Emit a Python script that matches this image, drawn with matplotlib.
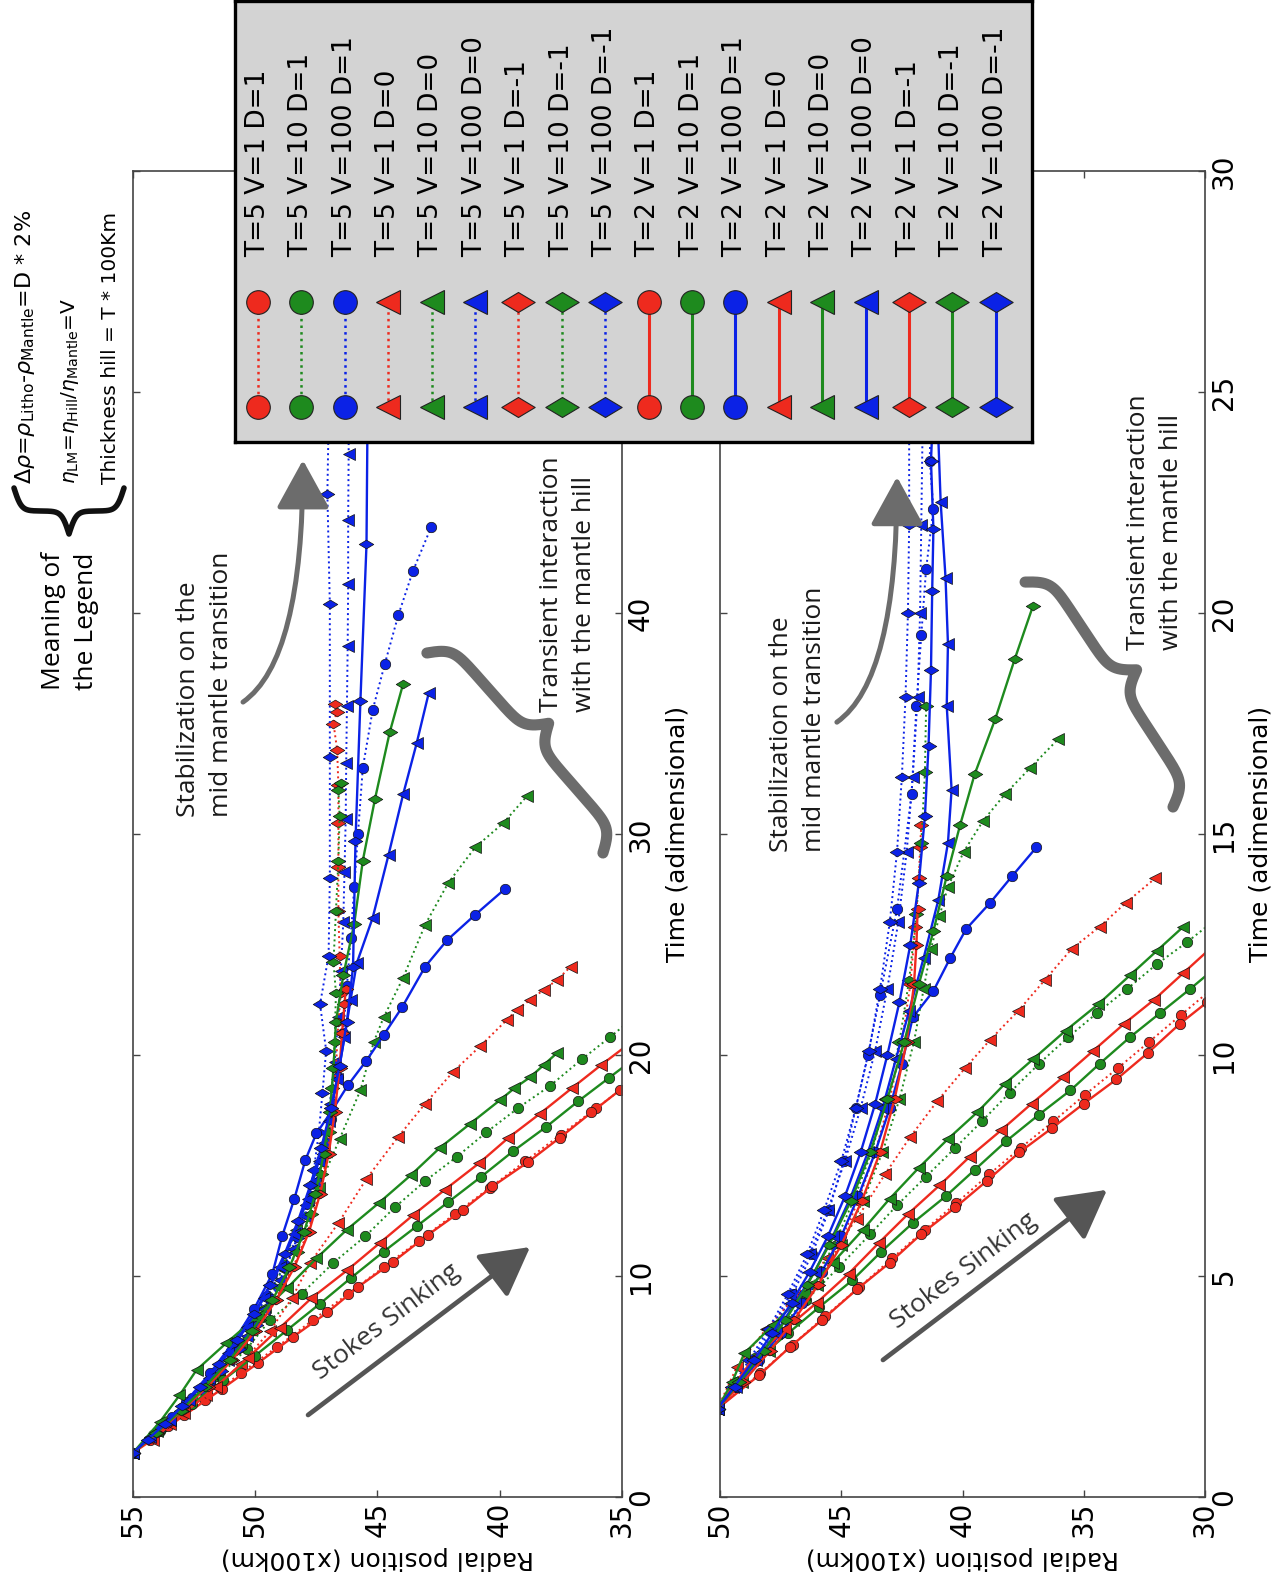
#!/usr/bin/env python3
"""Radial position of the sinking slab against time for the two model sets,
laid out on a portrait page (the landscape figure turned a quarter turn)."""

import numpy as np
import matplotlib

matplotlib.use("Agg")
import matplotlib.pyplot as plt
from matplotlib.lines import Line2D
from matplotlib.patches import FancyArrowPatch
from matplotlib.path import Path

plt.rcParams["mathtext.fontset"] = "dejavusans"

W, H, DPI = 1280, 1596, 100

# ---------------------------------------------------------------------------
# Model runs, (time, radial position x100 km).  First panel: outer set.
# ---------------------------------------------------------------------------
TOP_T5_V1_D1 = [(2.0, 55.0), (3.2, 53.55), (4.4, 52.05), (5.6, 50.6), (6.8, 49.1), (8.0, 47.65),
                (9.2, 46.2), (10.4, 44.75), (11.6, 43.3), (12.8, 41.85), (14.0, 40.4), (15.2, 38.95),
                (16.4, 37.5), (17.6, 36.05), (18.8, 34.6)]
TOP_T5_V10_D1 = [(2.0, 55.0), (3.1, 53.9), (4.3, 52.65), (5.5, 51.45), (6.7, 50.35), (8.0, 49.4),
                 (9.2, 48.1), (10.6, 46.8), (11.8, 45.5), (13.1, 44.3), (14.3, 43.05), (15.4, 41.75),
                 (16.5, 40.55), (17.6, 39.25), (18.6, 37.95), (19.8, 36.65), (20.8, 35.5), (21.8, 34.4)]
TOP_T5_V100_D1 = [(2.0, 55.0), (2.8, 54.2), (3.6, 53.4), (4.5, 52.6), (5.5, 51.8), (6.6, 51.0),
                  (7.8, 50.25), (9.1, 49.5), (10.5, 48.8), (12.0, 48.2), (13.6, 47.7), (15.3, 47.25),
                  (17.1, 46.9), (19.0, 46.6), (21.0, 46.4), (23.1, 46.25), (25.3, 46.1), (27.6, 45.95),
                  (30.0, 45.8), (33.0, 45.6), (35.6, 45.2), (37.7, 44.7), (39.9, 44.15), (41.9, 43.55),
                  (43.9, 42.8)]
TOP_T5_V1_D0 = [(2.0, 55.0), (3.3, 53.5), (4.6, 52.0), (6.0, 50.6), (7.5, 49.4), (9.0, 48.5),
                (10.6, 47.75), (12.4, 46.6), (14.4, 45.45), (16.3, 44.15), (17.8, 43.05), (19.25, 41.9),
                (20.4, 40.8), (21.6, 39.7), (22.05, 39.3), (22.5, 38.75), (22.95, 38.2), (23.4, 37.65),
                (24.0, 37.1)]
TOP_T5_V10_D0 = [(2.0, 55.0), (3.0, 54.0), (4.2, 52.9), (5.5, 51.8), (7.0, 50.6), (8.6, 49.6),
                 (10.3, 48.9), (12.1, 48.35), (14.0, 47.4), (16.2, 46.55), (18.4, 45.7), (20.6, 45.15),
                 (21.7, 44.75), (23.5, 43.95), (25.9, 43.05), (27.8, 42.1), (29.4, 41.0), (30.5, 39.85),
                 (31.7, 38.9)]
TOP_T5_V100_D0 = [(2.0, 55.0), (2.7, 54.3), (3.5, 53.5), (4.3, 52.7), (5.2, 51.9), (6.2, 51.1),
                  (7.3, 50.35), (8.5, 49.65), (9.8, 49.0), (11.2, 48.45), (12.7, 47.95), (14.3, 47.55),
                  (16.0, 47.2), (17.8, 46.95), (19.7, 46.75), (21.7, 46.6), (23.8, 46.5), (26.0, 46.4),
                  (28.3, 46.35), (30.7, 46.3), (33.2, 46.28), (35.8, 46.25), (38.5, 46.22), (41.3, 46.2),
                  (44.2, 46.2), (47.2, 46.18), (50.3, 46.18), (53.5, 46.15), (56.8, 46.15)]
TOP_T5_V1_DM1 = [(2.0, 55.0), (2.9, 54.0), (3.9, 53.0), (5.0, 52.0), (6.2, 51.0), (7.5, 50.05),
                 (8.9, 49.2), (10.4, 48.45), (12.0, 47.85), (13.7, 47.4), (15.5, 47.05), (17.4, 46.85),
                 (19.4, 46.7), (21.5, 46.6), (22.8, 46.5), (24.5, 46.55), (26.5, 46.6), (28.5, 46.6),
                 (30.5, 46.6), (32.2, 46.6), (33.8, 46.65), (35.0, 46.8), (35.5, 46.67), (35.9, 46.75)]
TOP_T5_V10_DM1 = [(2.0, 55.0), (3.0, 53.95), (4.1, 52.85), (5.3, 51.8), (6.6, 50.8), (8.0, 49.85),
                  (9.5, 49.0), (11.1, 48.3), (12.8, 47.7), (14.6, 47.3), (16.5, 47.0), (18.5, 46.85),
                  (20.6, 46.75), (22.8, 46.7), (24.2, 46.8), (26.5, 46.7), (28.8, 46.6), (30.8, 46.55),
                  (32.0, 46.6), (32.3, 46.5)]
TOP_T5_V100_DM1 = [(2.0, 55.0), (2.6, 54.35), (3.3, 53.6), (4.0, 52.9), (4.8, 52.15), (5.7, 51.4),
                   (6.7, 50.65), (7.8, 49.95), (9.0, 49.3), (10.3, 48.75), (11.7, 48.3), (13.2, 47.9),
                   (14.8, 47.6), (16.5, 47.4), (18.3, 47.25), (20.2, 47.1), (22.3, 47.35), (24.5, 47.0),
                   (28.0, 46.95), (33.5, 46.95), (40.4, 46.95), (45.4, 47.05), (52.0, 46.95), (58.0, 46.95)]
TOP_T2_V1_D1 = [(2.0, 55.0), (2.6, 54.3), (3.7, 52.9), (4.9, 51.35), (6.05, 49.9), (7.25, 48.45),
                (8.35, 47.05), (9.5, 45.8), (10.65, 44.35), (11.85, 42.95), (13.0, 41.5), (14.05, 40.3),
                (15.15, 38.85), (16.25, 37.55), (17.4, 36.25), (18.4, 35.1), (19.5, 33.7)]
TOP_T2_V10_D1 = [(2.0, 55.0), (3.0, 53.9), (4.2, 52.6), (5.3, 51.3), (6.4, 50.0), (7.55, 48.7),
                 (8.75, 47.35), (9.9, 46.1), (11.1, 44.75), (12.25, 43.4), (13.35, 42.1), (14.5, 40.75),
                 (15.65, 39.45), (16.75, 38.1), (17.9, 36.8), (18.95, 35.55), (20.0, 34.3)]
TOP_T2_V100_D1 = [(2.0, 55.0), (3.1, 53.9), (4.3, 52.85), (5.6, 51.85), (7.0, 50.9), (8.5, 50.05),
                  (10.1, 49.3), (11.8, 48.9), (13.5, 48.4), (15.25, 47.95), (16.45, 47.5), (17.5, 46.85),
                  (18.65, 46.2), (19.75, 45.45), (20.9, 44.75), (22.15, 44.0), (24.0, 43.05), (25.2, 42.15),
                  (26.35, 41.0), (27.5, 39.8)]
TOP_T2_V1_D0 = [(2.0, 55.0), (2.6, 54.2), (3.8, 52.9), (5.0, 51.6), (6.3, 50.3), (7.65, 49.0),
                (9.0, 47.7), (10.25, 46.25), (11.5, 44.9), (12.75, 43.55), (13.9, 42.25), (15.1, 40.85),
                (16.25, 39.65), (17.35, 38.35), (18.5, 37.05), (19.55, 35.85), (20.6, 34.6)]
TOP_T2_V10_D0 = [(2.0, 55.0), (3.4, 53.9), (4.6, 53.1), (5.75, 52.4), (6.95, 51.2), (8.2, 49.9),
                 (9.45, 48.7), (10.8, 47.5), (12.1, 46.25), (13.3, 44.95), (14.55, 43.65), (15.8, 42.45),
                 (16.9, 41.2), (17.95, 40.0), (18.5, 39.4), (19.0, 38.75), (19.55, 38.2), (20.1, 37.65)]
TOP_T2_V100_D0 = [(2.0, 55.0), (2.7, 54.3), (3.5, 53.5), (4.4, 52.7), (5.4, 51.9), (6.5, 51.1),
                  (7.7, 50.35), (9.0, 49.65), (10.4, 49.0), (11.9, 48.4), (13.5, 47.85), (15.2, 47.4),
                  (17.0, 47.0), (18.9, 46.65), (20.8, 46.35), (22.5, 46.1), (24.15, 45.85), (26.2, 45.2),
                  (29.05, 44.55), (31.8, 43.95), (34.1, 43.4), (36.4, 42.9)]
TOP_T2_V1_DM1 = [(2.0, 55.0), (2.9, 54.0), (3.9, 53.0), (5.0, 51.95), (6.2, 50.95), (7.5, 50.0),
                 (8.9, 49.15), (10.4, 48.4), (12.0, 47.8), (13.7, 47.35), (15.5, 47.0), (17.4, 46.75),
                 (19.4, 46.55), (21.0, 46.45), (22.3, 46.35), (23.0, 46.3)]
TOP_T2_V10_DM1 = [(2.0, 55.0), (2.9, 54.05), (3.9, 53.05), (5.0, 52.05), (6.2, 51.05), (7.5, 50.15),
                  (8.9, 49.3), (10.4, 48.6), (12.0, 48.0), (13.7, 47.55), (15.5, 47.2), (17.4, 46.95),
                  (19.4, 46.8), (21.5, 46.7), (23.6, 46.4), (25.95, 45.95), (28.8, 45.6), (31.6, 45.1),
                  (34.6, 44.5), (36.8, 43.95)]
TOP_T2_V100_DM1 = [(2.0, 55.0), (2.6, 54.4), (3.3, 53.7), (4.1, 53.0), (5.0, 52.25), (6.0, 51.5),
                   (7.1, 50.75), (8.3, 50.05), (9.6, 49.4), (11.0, 48.8), (12.5, 48.25), (14.1, 47.75),
                   (15.8, 47.3), (17.6, 46.9), (19.5, 46.55), (21.5, 46.25), (24.0, 46.0), (29.7, 45.9),
                   (36.0, 45.7), (43.1, 45.45), (50.0, 45.4), (58.0, 45.35)]

# Second panel: inner set.
BOT_T5_V1_D1 = [(2.0, 50.1), (2.8, 48.35), (3.45, 47.0), (4.1, 45.65), (4.75, 44.25), (5.4, 42.9),
                (6.05, 41.55), (6.65, 40.25), (7.3, 38.9), (7.9, 37.6), (8.5, 36.25), (9.1, 34.95),
                (9.7, 33.6), (10.3, 32.3), (10.9, 31.0), (11.5, 29.7)]
BOT_T5_V10_D1 = [(2.0, 50.1), (2.6, 49.3), (3.15, 48.55), (3.75, 47.65), (4.45, 46.45), (5.2, 45.1),
                 (5.95, 43.8), (6.6, 42.7), (7.25, 41.5), (7.9, 40.3), (8.5, 39.2), (9.15, 38.05),
                 (9.8, 36.85), (10.4, 35.65), (10.95, 34.45), (11.5, 33.2), (12.05, 32.0), (12.55, 30.75),
                 (13.05, 29.6)]
BOT_T5_V100_D1 = [(2.0, 50.1), (2.5, 49.4), (3.1, 48.6), (3.8, 47.8), (4.6, 47.0), (5.5, 46.2),
                  (6.5, 45.5), (7.6, 44.9), (8.8, 44.4), (10.0, 43.9), (11.35, 43.4), (13.3, 42.7),
                  (15.9, 42.1), (17.9, 41.9), (19.5, 41.7), (21.0, 41.5), (22.35, 41.2), (23.45, 41.35),
                  (25.0, 41.3), (27.0, 41.25)]
BOT_T5_V1_D0 = [(2.0, 50.1), (2.95, 49.3), (3.8, 48.1), (4.55, 46.85), (5.4, 45.6), (6.3, 44.35),
                (7.3, 43.2), (8.15, 42.15), (8.95, 41.05), (9.7, 39.9), (10.35, 38.85), (11.0, 37.7),
                (11.7, 36.6), (12.4, 35.5), (12.9, 34.35), (13.45, 33.25), (14.0, 32.05)]
BOT_T5_V10_D0 = [(2.0, 50.1), (2.6, 49.1), (3.3, 48.0), (4.0, 47.0), (4.8, 46.0), (5.7, 45.0),
                 (6.7, 44.1), (7.8, 43.3), (9.0, 42.6), (10.3, 42.0), (11.5, 41.6), (12.4, 41.3),
                 (13.15, 40.95), (13.8, 40.6), (14.6, 39.95), (15.3, 39.15), (15.9, 38.25), (16.5, 37.2),
                 (17.15, 36.05)]
BOT_T5_V100_D0 = [(2.0, 50.1), (2.5, 49.45), (3.1, 48.7), (3.8, 47.9), (4.6, 47.1), (5.5, 46.3),
                  (6.5, 45.55), (7.6, 44.85), (8.8, 44.2), (10.1, 43.6), (11.5, 43.1), (13.0, 42.65),
                  (14.6, 42.3), (16.3, 42.05), (18.1, 41.85), (20.0, 41.75), (22.0, 41.7), (24.0, 41.65),
                  (26.0, 41.6)]
BOT_T5_V1_DM1 = [(2.0, 50.1), (2.6, 49.1), (3.3, 48.0), (4.0, 47.0), (4.8, 46.0), (5.7, 45.1),
                 (6.7, 44.3), (7.8, 43.6), (9.0, 43.0), (10.3, 42.5), (11.6, 42.15), (12.9, 41.95),
                 (14.0, 41.8), (14.7, 41.75), (15.2, 41.7)]
BOT_T5_V10_DM1 = [(2.0, 50.1), (2.6, 49.15), (3.3, 48.1), (4.0, 47.15), (4.8, 46.2), (5.7, 45.3),
                  (6.7, 44.5), (7.8, 43.75), (9.0, 43.15), (10.3, 42.6), (11.7, 42.2), (13.2, 41.9),
                  (14.8, 41.7), (16.4, 41.55), (17.9, 41.5)]
BOT_T5_V100_DM1 = [(2.0, 50.1), (2.5, 49.5), (3.1, 48.8), (3.8, 48.0), (4.6, 47.2), (5.5, 46.4),
                   (6.5, 45.7), (7.6, 45.0), (8.8, 44.4), (10.1, 43.85), (11.5, 43.4), (13.0, 43.0),
                   (14.6, 42.7), (16.3, 42.5), (18.1, 42.35), (20.0, 42.25), (22.0, 42.2), (24.0, 42.2),
                   (26.0, 42.2)]
BOT_T2_V1_D1 = [(2.0, 50.1), (2.75, 48.4), (3.4, 47.1), (4.0, 45.8), (4.7, 44.35), (5.3, 43.0),
                (5.95, 41.7), (6.55, 40.3), (7.15, 39.0), (7.8, 37.65), (8.35, 36.3), (8.9, 35.0),
                (9.45, 33.65), (10.05, 32.35), (10.7, 31.05), (11.2, 29.9)]
BOT_T2_V10_D1 = [(2.0, 50.1), (2.5, 49.35), (3.1, 48.5), (3.7, 47.2), (4.3, 45.9), (4.9, 44.55),
                 (5.55, 43.35), (6.2, 42.05), (6.8, 40.7), (7.4, 39.5), (8.05, 38.2), (8.65, 36.85),
                 (9.2, 35.55), (9.8, 34.35), (10.4, 33.1), (10.95, 31.85), (11.5, 30.6), (12.05, 29.4)]
BOT_T2_V100_D1 = [(2.0, 50.1), (2.5, 49.3), (3.1, 48.4), (3.7, 47.5), (4.4, 46.6), (5.1, 45.8),
                  (5.9, 45.0), (6.8, 44.3), (7.8, 43.6), (8.8, 43.0), (9.8, 42.5), (10.85, 42.05),
                  (11.45, 41.2), (12.2, 40.5), (12.85, 39.85), (13.45, 38.85), (14.05, 37.95), (14.7, 36.95)]
BOT_T2_V1_D0 = [(2.0, 50.1), (2.55, 49.4), (3.15, 48.6), (3.8, 47.3), (4.4, 46.0), (5.05, 44.7),
                (5.75, 43.45), (6.4, 42.25), (7.05, 40.95), (7.7, 39.7), (8.3, 38.4), (8.9, 37.15),
                (9.5, 35.85), (10.1, 34.6), (10.7, 33.35), (11.25, 32.1), (11.85, 30.9), (12.45, 29.7)]
BOT_T2_V10_D0 = [(2.0, 50.1), (2.6, 49.5), (3.25, 49.0), (3.9, 47.8), (4.6, 46.55), (5.3, 45.35),
                 (6.05, 44.1), (6.75, 43.0), (7.45, 41.8), (8.1, 40.6), (8.7, 39.4), (9.35, 38.25),
                 (9.9, 37.1), (10.55, 35.75), (11.15, 34.4), (11.8, 33.1), (12.35, 32.0), (12.9, 30.9)]
BOT_T2_V100_D0 = [(2.0, 50.1), (2.5, 49.35), (3.1, 48.5), (3.7, 47.7), (4.4, 46.9), (5.1, 46.1),
                  (5.9, 45.35), (6.8, 44.6), (7.8, 43.9), (8.8, 43.3), (9.9, 42.75), (11.0, 42.2),
                  (12.2, 41.6), (13.5, 41.0), (14.8, 40.6), (16.0, 40.45), (17.9, 40.65), (19.3, 40.6),
                  (20.8, 40.7), (22.5, 40.9), (24.0, 41.0)]
BOT_T2_V1_DM1 = [(2.0, 50.1), (2.6, 49.05), (3.3, 47.95), (4.0, 46.95), (4.8, 45.95), (5.7, 45.0),
                 (6.7, 44.15), (7.8, 43.4), (9.0, 42.8), (10.3, 42.3), (11.6, 42.0), (12.5, 41.9),
                 (13.3, 41.85)]
BOT_T2_V10_DM1 = [(2.0, 50.1), (2.6, 49.2), (3.3, 48.2), (4.0, 47.3), (4.8, 46.4), (5.7, 45.5),
                  (6.7, 44.6), (7.8, 43.8), (9.0, 43.1), (10.3, 42.4), (11.6, 41.8), (12.8, 41.2),
                  (14.05, 40.65), (15.2, 40.1), (16.35, 39.5), (17.6, 38.65), (18.95, 37.85), (20.15, 37.1)]
BOT_T2_V100_DM1 = [(2.0, 50.1), (2.5, 49.4), (3.1, 48.6), (3.7, 47.85), (4.4, 47.05), (5.1, 46.3),
                   (5.9, 45.55), (6.8, 44.85), (7.8, 44.2), (8.9, 43.6), (10.0, 43.1), (11.2, 42.6),
                   (12.5, 42.15), (13.9, 41.8), (15.4, 41.55), (17.0, 41.4), (18.7, 41.3), (20.5, 41.25),
                   (21.9, 41.2), (23.45, 41.3), (26.0, 41.1), (29.0, 41.1)]

# Legend / plotting order: hill thickness T, viscosity ratio V, density sign D
CASES = [(5, 1, 1), (5, 10, 1), (5, 100, 1), (5, 1, 0), (5, 10, 0), (5, 100, 0),
         (5, 1, -1), (5, 10, -1), (5, 100, -1),
         (2, 1, 1), (2, 10, 1), (2, 100, 1), (2, 1, 0), (2, 10, 0), (2, 100, 0),
         (2, 1, -1), (2, 10, -1), (2, 100, -1)]

TOP_RUNS = [TOP_T5_V1_D1, TOP_T5_V10_D1, TOP_T5_V100_D1, TOP_T5_V1_D0, TOP_T5_V10_D0,
            TOP_T5_V100_D0, TOP_T5_V1_DM1, TOP_T5_V10_DM1, TOP_T5_V100_DM1,
            TOP_T2_V1_D1, TOP_T2_V10_D1, TOP_T2_V100_D1, TOP_T2_V1_D0, TOP_T2_V10_D0,
            TOP_T2_V100_D0, TOP_T2_V1_DM1, TOP_T2_V10_DM1, TOP_T2_V100_DM1]
BOT_RUNS = [BOT_T5_V1_D1, BOT_T5_V10_D1, BOT_T5_V100_D1, BOT_T5_V1_D0, BOT_T5_V10_D0,
            BOT_T5_V100_D0, BOT_T5_V1_DM1, BOT_T5_V10_DM1, BOT_T5_V100_DM1,
            BOT_T2_V1_D1, BOT_T2_V10_D1, BOT_T2_V100_D1, BOT_T2_V1_D0, BOT_T2_V10_D0,
            BOT_T2_V100_D0, BOT_T2_V1_DM1, BOT_T2_V10_DM1, BOT_T2_V100_DM1]

TOP_RTICKS = [55, 50, 45, 40, 35]
TOP_TTICKS = [0, 10, 20, 30, 40, 50, 60]
TOP_TLABELS = ["0", "10", "20", "30", "40", "", ""]   # 50 and 60 sit under the legend box
BOT_RTICKS = [50, 45, 40, 35, 30]
BOT_TTICKS = [0, 5, 10, 15, 20, 25, 30]
BOT_TLABELS = ["0", "5", "10", "15", "20", "25", "30"]

# ---------------------------------------------------------------------------
# Styles
# ---------------------------------------------------------------------------
WIDE_DIAMOND = Path([(-1.0, 0.0), (0.0, 0.6), (1.0, 0.0), (0.0, -0.6), (-1.0, 0.0)],
                    [Path.MOVETO, Path.LINETO, Path.LINETO, Path.LINETO, Path.CLOSEPOLY])
COLOR_BY_V = {1: "#ee2a1e", 10: "#1e8a1e", 100: "#0b22e6"}
MARKER_BY_D = {1: "o", 0: "<", -1: WIDE_DIAMOND}
MSIZE_BY_D = {1: 7.5, 0: 8.0, -1: 10.5}
LEGEND_MSIZE_BY_D = {1: 17, 0: 17, -1: 24}
LS_BY_T = {5: ":", 2: "-"}
LW_BY_T = {5: 1.4, 2: 1.7}
ANNOT_GRAY = "#6c6c6c"
ANNOT_FONT = "Open Sans"


def box(x0, y0, x1, y1):
    """Figure-fraction rectangle from a pixel box measured from the top-left corner."""
    return [x0 / W, 1 - y1 / H, (x1 - x0) / W, (y1 - y0) / H]


def fxy(x, y):
    return x / W, 1 - y / H


def brace_points(p0, p1, height, beta=38.0, n=160):
    """Curly brace from p0 to p1 (display units), tip bulging to the left of p0->p1."""
    p0 = np.asarray(p0, float)
    p1 = np.asarray(p1, float)
    d = p1 - p0
    length = np.hypot(*d)
    u = d / length
    v = np.array([-u[1], u[0]])
    s = np.linspace(0.0, 0.5, n)
    half = 1 / (1 + np.exp(-beta * s)) + 1 / (1 + np.exp(-beta * (s - 0.5))) - 0.5
    s_all = np.concatenate([s, 1 - s[::-1][1:]])
    h_all = np.concatenate([half, half[::-1][1:]])
    return p0 + np.outer(s_all * length, u) + np.outer(h_all * height, v)


def setup_panel(ax, rticks, tticks, tlabels):
    ax.set_xlim(rticks[0], rticks[-1])
    ax.set_ylim(tticks[0], tticks[-1])
    ax.set_xticks(rticks)
    ax.set_yticks(tticks, tlabels)
    ax.yaxis.tick_right()
    ax.yaxis.set_label_position("right")
    ax.tick_params(axis="both", direction="in", length=5, width=1, color="#444444",
                   top=True, bottom=True, left=True, right=True, labelsize=20)
    ax.tick_params(axis="x", labelrotation=90)
    ax.tick_params(axis="y", labelrotation=90, labelleft=False, labelright=True)
    plt.setp(ax.get_yticklabels(), va="center")
    for spine in ax.spines.values():
        spine.set_color("#444444")
        spine.set_linewidth(1.2)
    ax.set_xlabel("Radial position (x100km)", rotation=180, fontsize=18, labelpad=6)
    ax.set_ylabel("Time (adimensional)", fontsize=18, labelpad=8)


def draw_runs(ax, runs):
    for (T, V, D), pts in zip(CASES, runs):
        t, r = np.array(pts).T
        ax.plot(r, t, ls=LS_BY_T[T], lw=LW_BY_T[T], color=COLOR_BY_V[V],
                marker=MARKER_BY_D[D], ms=MSIZE_BY_D[D], mfc=COLOR_BY_V[V],
                mec="#111111", mew=0.5)


def annotate_panel(ax, stokes, stokes_text, stab_text, stab_arrow, brace, transient_text):
    # straight "Stokes sinking" arrow with the label sitting above it
    ax.add_patch(FancyArrowPatch(stokes[0], stokes[1], arrowstyle="-|>,head_length=1.0,head_width=0.55",
                                 mutation_scale=30, lw=3.4, color="#555555", shrinkA=0, shrinkB=0,
                                 transform=ax.transData, zorder=6))
    ax.text(*stokes_text, "Stokes Sinking", rotation=37, rotation_mode="anchor", ha="center",
            va="center", fontsize=19, family=ANNOT_FONT, color="#333333", zorder=6)

    ax.text(*stab_text, "Stabilization on the\nmid mantle transition", rotation=90, ha="center",
            va="bottom", multialignment="left", linespacing=1.45, fontsize=19,
            family=ANNOT_FONT, color="#1a1a1a", zorder=6)
    ax.add_patch(FancyArrowPatch(stab_arrow[0], stab_arrow[1],
                                 connectionstyle="angle3,angleA=35,angleB=90",
                                 arrowstyle="-|>,head_length=1.0,head_width=0.55",
                                 mutation_scale=30, lw=3.6, color=ANNOT_GRAY, shrinkA=0, shrinkB=0,
                                 transform=ax.transData, clip_on=False, zorder=6))

    p0 = ax.transData.transform(brace[0])
    p1 = ax.transData.transform(brace[1])
    pts = ax.transData.inverted().transform(brace_points(p0, p1, 45))
    ax.plot(pts[:, 0], pts[:, 1], color=ANNOT_GRAY, lw=8, solid_capstyle="round",
            solid_joinstyle="round", zorder=6, clip_on=False)
    ax.text(*transient_text, "Transient interaction\nwith the mantle hill", rotation=90,
            ha="center", va="bottom", multialignment="left", linespacing=1.45, fontsize=19,
            family=ANNOT_FONT, color="#1a1a1a", zorder=6)


fig = plt.figure(figsize=(W / DPI, H / DPI), dpi=DPI)
fig.patch.set_facecolor("white")

ax_top = fig.add_axes(box(133, 171, 622, 1497))
ax_bot = fig.add_axes(box(720, 171, 1205, 1497))

setup_panel(ax_top, TOP_RTICKS, TOP_TTICKS, TOP_TLABELS)
setup_panel(ax_bot, BOT_RTICKS, BOT_TTICKS, BOT_TLABELS)
draw_runs(ax_top, TOP_RUNS)
draw_runs(ax_bot, BOT_RUNS)

annotate_panel(ax_top,
               stokes=((47.84, 3.71), (38.76, 11.31)), stokes_text=(44.61, 7.92),
               stab_text=(52.06, 30.77), stab_arrow=((50.50, 35.97), (48.05, 46.92)),
               brace=((42.98, 38.19), (35.78, 29.14)), transient_text=(37.21, 35.5))
annotate_panel(ax_bot,
               stokes=((43.28, 3.10), (34.04, 6.95)), stokes_text=(39.94, 5.11),
               stab_text=(46.78, 14.59), stab_arrow=((45.18, 17.53), (42.70, 23.08)),
               brace=((37.42, 20.70), (31.32, 15.61)), transient_text=(32.06, 19.16))

# Key to the legend symbols, in the left margin
fig.text(*fxy(25, 484), r"$\Delta\rho$=$\rho_{\rm Litho}$-$\rho_{\rm Mantle}$=D * 2%", rotation=90,
         ha="center", va="bottom", fontsize=16)
fig.text(*fxy(70, 484), r"$\eta_{\rm LM}$=$\eta_{\rm Hill}$/$\eta_{\rm Mantle}$=V", rotation=90,
         ha="center", va="bottom", fontsize=14.5)
fig.text(*fxy(111, 484), "Thickness hill = T * 100Km", rotation=90, ha="center", va="bottom",
         fontsize=14.5)
key_brace = brace_points((124, H - 488), (14, H - 488), 46, beta=30.0)
fig.add_artist(Line2D(key_brace[:, 0] / W, key_brace[:, 1] / H, color="#111111", lw=4,
                      solid_capstyle="round", transform=fig.transFigure))
fig.text(*fxy(70, 552), "Meaning of\nthe Legend", rotation=90, ha="center", va="top",
         multialignment="center", linespacing=1.4, fontsize=19, family=ANNOT_FONT)

# Legend drawn by hand so that its entries run along the page like the axes
lax = fig.add_axes(box(235, 1, 1032, 442), zorder=20)
lax.set_xlim(235, 1032)
lax.set_ylim(442, 1)
lax.set_facecolor("#d3d3d3")
lax.set_xticks([])
lax.set_yticks([])
for spine in lax.spines.values():
    spine.set_color("black")
    spine.set_linewidth(2.4)

col_x0, col_dx = 258.0, 43.4
for i, (T, V, D) in enumerate(CASES):
    x = col_x0 + i * col_dx
    lax.plot([x, x], [407, 302], ls=LS_BY_T[T], lw=2.2 if T == 2 else 1.8, color=COLOR_BY_V[V],
             marker=MARKER_BY_D[D], ms=LEGEND_MSIZE_BY_D[D], mfc=COLOR_BY_V[V],
             mec="#222222", mew=0.8, clip_on=False)
    lax.text(x, 257, f"T={T} V={V} D={D}", rotation=90, ha="center", va="bottom", fontsize=19)

fig.savefig("out.png", dpi=DPI)
